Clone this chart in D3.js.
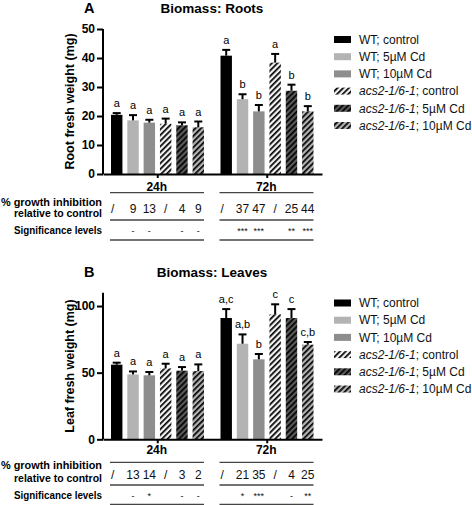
<!DOCTYPE html>
<html><head><meta charset="utf-8">
<script src="https://cdn.jsdelivr.net/npm/d3@7"></script>
<style>
body{margin:0;background:#fff;}
svg{font-family:"Liberation Sans",Arial,sans-serif;}
</style></head>
<body><svg id="c" width="472" height="505"></svg>
<script>
const categories = ["24h", "72h"];
const seriesNames = ["WT; control", "WT; 5µM Cd", "WT; 10µM Cd", "acs2-1/6-1; control", "acs2-1/6-1; 5µM Cd", "acs2-1/6-1; 10µM Cd"];
const rootMean24 = [20.4, 18.5, 17.7, 17.3, 16.8, 16.1];
const rootErr24  = [0.6, 1.8, 1.0, 1.8, 1.0, 2.0];
const rootMean72 = [40.8, 25.8, 21.6, 38.4, 28.7, 21.6];
const rootErr72  = [2.0, 1.7, 2.2, 3.0, 2.1, 1.8];
const rootLetters24 = ["a", "a", "a", "a", "a", "a"];
const rootLetters72 = ["a", "b", "b", "a", "b", "b"];
const rootInhib24 = ["/", "9", "13", "/", "4", "9"];
const rootInhib72 = ["/", "37", "47", "/", "25", "44"];
const rootSig24 = ["", "-", "-", "", "-", "-"];
const rootSig72 = ["", "***", "***", "", "**", "***"];
const rootTicks = [0, 10, 20, 30, 40, 50];

const leafMean24 = [56.0, 48.7, 48.0, 53.2, 51.5, 51.2];
const leafErr24  = [1.5, 2.2, 2.5, 3.5, 2.7, 5.0];
const leafMean72 = [91.0, 71.7, 60.0, 93.8, 91.0, 71.0];
const leafErr72  = [6.7, 7.0, 4.0, 7.5, 6.7, 2.0];
const leafLetters24 = ["a", "a", "a", "a", "a", "a"];
const leafLetters72 = ["a,c", "a,b", "b", "c", "c", "c,b"];
const leafInhib24 = ["/", "13", "14", "/", "3", "2"];
const leafInhib72 = ["/", "21", "35", "/", "4", "25"];
const leafSig24 = ["", "-", "*", "", "-", "-"];
const leafSig72 = ["", "*", "***", "", "-", "**"];
const leafTicks = [0, 50, 100];

const svg = d3.select("#c");
const defs = svg.append("defs");
const fills = ["#000000", "#b3b3b3", "#8e8e8e", "#f2f2f2", "#5a5a5a", "#b3b3b3"];
const hatched = [false, false, false, true, true, true];
fills.forEach((f, i) => {
  if (!hatched[i]) return;
  const p = defs.append("pattern").attr("id", "h" + i).attr("patternUnits", "userSpaceOnUse")
    .attr("width", 4).attr("height", 4).attr("patternTransform", "rotate(45)");
  p.append("rect").attr("width", 4).attr("height", 4).attr("fill", f);
  p.append("rect").attr("x", 0).attr("width", 1.7).attr("height", 4).attr("fill", "#000");
});
const fillOf = i => hatched[i] ? `url(#h${i})` : fills[i];

function panel(cfg) {
  const g = svg.append("g");
  const x0 = d3.scaleBand().domain(categories).range([103, 322]);
  const x1 = d3.scaleBand().domain(d3.range(6)).range([8, 101]).paddingInner(0.3).paddingOuter(0);
  const y = d3.scaleLinear().domain([0, cfg.max]).range([cfg.y0, cfg.yTop]);
  const groups = [
    {cat: categories[0], mean: cfg.m24, err: cfg.e24, let: cfg.l24, inh: cfg.i24, sig: cfg.s24},
    {cat: categories[1], mean: cfg.m72, err: cfg.e72, let: cfg.l72, inh: cfg.i72, sig: cfg.s72}
  ];
  g.append("text").attr("x", 84).attr("y", cfg.titleY).attr("font-size", 14.5).attr("font-weight", "bold").text(cfg.letter);
  g.append("text").attr("x", 212).attr("y", cfg.titleY).attr("font-size", 13.5).attr("font-weight", "bold").attr("text-anchor", "middle").text(cfg.title);

  groups.forEach(gr => {
    const gx = x0(gr.cat);
    gr.mean.forEach((v, i) => {
      const bx = gx + x1(i), bw = x1.bandwidth(), cx = bx + bw / 2;
      g.append("rect").attr("x", bx).attr("y", y(v)).attr("width", bw).attr("height", y(0) - y(v)).attr("fill", fillOf(i));
      const top = y(v + gr.err[i]);
      g.append("line").attr("x1", cx).attr("x2", cx).attr("y1", y(v)).attr("y2", top).attr("stroke", "#000").attr("stroke-width", 2);
      g.append("line").attr("x1", cx - 4).attr("x2", cx + 4).attr("y1", top).attr("y2", top).attr("stroke", "#000").attr("stroke-width", 2);
      g.append("text").attr("x", cx).attr("y", top - 6).attr("text-anchor", "middle").attr("font-size", 11).attr("fill", "#000").text(gr.let[i]);
      g.append("text").attr("x", cx - (i === 0 ? 4 : 0)).attr("y", cfg.y0 + cfg.rowY).attr("dy", "0.35em").attr("text-anchor", "middle").attr("font-size", 12).attr("fill", "#111").text(gr.inh[i]);
      g.append("text").attr("x", cx).attr("y", cfg.y0 + cfg.sigY).attr("dy", "0.45em").attr("text-anchor", "middle").attr("font-size", 9).attr("fill", "#111").text(gr.sig[i]);
    });
    g.append("text").attr("x", gx + x0.bandwidth() / 2 - 1).attr("y", cfg.y0 + cfg.catY).attr("dy", "0.35em").attr("text-anchor", "middle").attr("font-size", 12).attr("font-weight", "bold").text(gr.cat);
    cfg.lines.forEach(ly => {
      g.append("line").attr("x1", gx + 7).attr("x2", gx + 101).attr("y1", cfg.y0 + ly).attr("y2", cfg.y0 + ly).attr("stroke", "#444").attr("stroke-width", 1.3);
    });
  });

  const ya = g.append("g").attr("transform", "translate(103,0)").call(d3.axisLeft(y).tickValues(cfg.ticks).tickSize(6).tickSizeOuter(0).tickPadding(2));
  ya.select(".domain").attr("stroke-width", 2).attr("d", `M0,${cfg.y0}V${cfg.yTop}`);
  ya.selectAll(".tick line").attr("stroke-width", 2);
  ya.selectAll(".tick text").attr("font-size", 12).attr("font-weight", "bold").attr("font-family", "Liberation Sans, Arial, sans-serif");
  const xa = g.append("g").attr("transform", `translate(0,${cfg.y0})`).call(d3.axisBottom(x0).tickSize(4).tickSizeOuter(0).tickFormat(""));
  xa.select(".domain").attr("stroke-width", 2);
  xa.selectAll(".tick line").attr("stroke-width", 2);

  g.append("text").attr("transform", `translate(70,${(cfg.y0 + cfg.yTop) / 2}) rotate(-90)`).attr("text-anchor", "middle").attr("dy", "0.35em")
    .attr("font-size", 12.5).attr("font-weight", "bold").text(cfg.ylabel);

  const lab = (txt, yy, len) => g.append("text").attr("x", 102).attr("y", cfg.y0 + yy).attr("dy", "0.35em").attr("text-anchor", "end")
    .attr("font-size", 10.5).attr("font-weight", "bold").attr("textLength", len).attr("lengthAdjust", "spacingAndGlyphs").text(txt);
  lab("% growth inhibition", cfg.lab1, 101);
  lab("relative to control", cfg.lab2, 88);
  lab("Significance levels", cfg.sigY, 88);

  seriesNames.forEach((s, i) => {
    const ly = cfg.legY + i * 17.2;
    g.append("rect").attr("x", 334).attr("y", ly - 3.5).attr("width", 17).attr("height", 7).attr("fill", fillOf(i));
    const t = g.append("text").attr("x", 359).attr("y", ly).attr("dy", "0.35em").attr("font-size", 12).attr("fill", "#111");
    if (s.startsWith("acs2")) {
      const parts = s.split(";");
      t.append("tspan").attr("font-style", "italic").text(parts[0]);
      t.append("tspan").text(";" + parts[1]);
    } else t.text(s);
  });
}

panel({letter: "A", title: "Biomass: Roots", titleY: 13, max: 50, y0: 174, yTop: 29, ticks: rootTicks,
  ylabel: "Root fresh weight (mg)",
  m24: rootMean24, e24: rootErr24, l24: rootLetters24, i24: rootInhib24, s24: rootSig24,
  m72: rootMean72, e72: rootErr72, l72: rootLetters72, i72: rootInhib72, s72: rootSig72,
  catY: 12.7, lines: [18.7, 46, 66], rowY: 34.3, sigY: 56, lab1: 28.5, lab2: 39.3, legY: 39.5});

panel({letter: "B", title: "Biomass: Leaves", titleY: 277, max: 110, y0: 439.3, yTop: 292.7, ticks: leafTicks,
  ylabel: "Leaf fresh weight (mg)",
  m24: leafMean24, e24: leafErr24, l24: leafLetters24, i24: leafInhib24, s24: leafSig24,
  m72: leafMean72, e72: leafErr72, l72: leafLetters72, i72: leafInhib72, s72: leafSig72,
  catY: 10.7, lines: [23, 45.7, 65], rowY: 35, sigY: 55.7, lab1: 26, lab2: 38.6, legY: 303});
</script></body></html>
